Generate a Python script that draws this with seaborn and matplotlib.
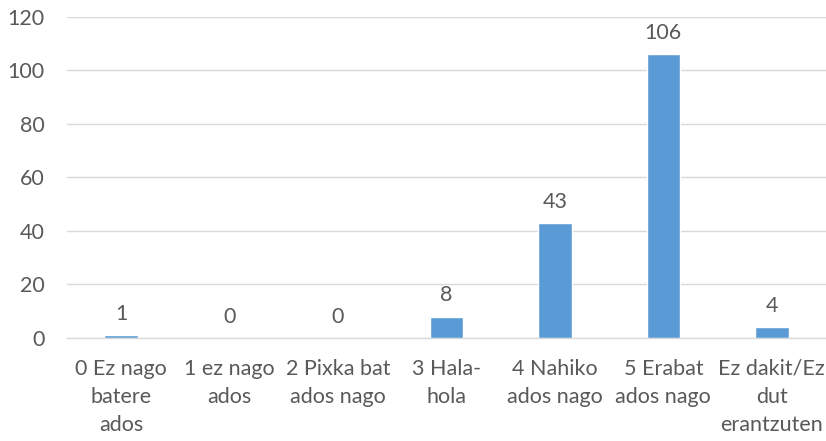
import matplotlib
matplotlib.use("Agg")
import matplotlib.pyplot as plt
import seaborn as sns
import pandas as pd

categories = [
    "0 Ez nago\nbatere\nados",
    "1 ez nago\nados",
    "2 Pixka bat\nados nago",
    "3 Hala-\nhola",
    "4 Nahiko\nados nago",
    "5 Erabat\nados nago",
    "Ez dakit/Ez\ndut\nerantzuten",
]
values = [1, 0, 0, 8, 43, 106, 4]
y_ticks = [0, 20, 40, 60, 80, 100, 120]

df = pd.DataFrame({"kategoria": categories, "balioa": values})

sns.set_theme(style="white")
plt.rcParams["font.family"] = ["Lato", "DejaVu Sans"]
text_color = "#595959"

fig = plt.figure(figsize=(8.26, 4.41), dpi=100)
ax = fig.add_axes([0.081, 0.2336, 0.919, 0.728])

sns.barplot(data=df, x="kategoria", y="balioa", color="#5B9BD5",
            width=0.31, saturation=1, ax=ax, zorder=3)

for i, v in enumerate(values):
    ax.annotate(str(v), (i, v), xytext=(0, 8), textcoords="offset points",
                ha="center", va="bottom", fontsize=15.5, color=text_color)

ax.set_ylim(0, 120)
ax.set_xlim(-0.5, len(categories) - 0.5)
ax.set_yticks(y_ticks)
ax.yaxis.grid(True, color="#D9D9D9", linewidth=1, zorder=0)
for s in ["top", "right", "left"]:
    ax.spines[s].set_visible(False)
ax.spines["bottom"].set_color("#D9D9D9")
ax.spines["bottom"].set_linewidth(1)
ax.tick_params(axis="both", length=0, labelsize=15.5, colors=text_color)
ax.tick_params(axis="y", pad=16)
ax.tick_params(axis="x", pad=15)
for lbl in ax.get_xticklabels():
    lbl.set_linespacing(1.5)
ax.set_xlabel("")
ax.set_ylabel("")

fig.savefig("out.png", dpi=100)
